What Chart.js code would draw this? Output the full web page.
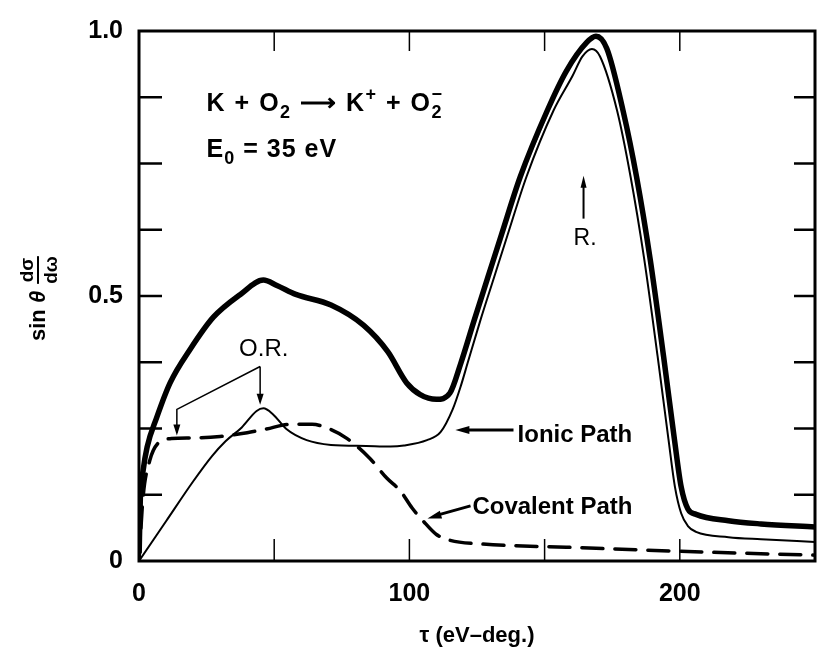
<!DOCTYPE html>
<html>
<head>
<meta charset="utf-8">
<script src="https://cdn.jsdelivr.net/npm/chart.js@4.4.1/dist/chart.umd.min.js"></script>
<style>
  html, body { margin: 0; padding: 0; background: #fff; }
  #wrap { width: 818px; height: 649px; position: relative; }
</style>
</head>
<body>
<div id="wrap"><canvas id="curve_chart"></canvas></div>
<script>
// values (tau in eV-deg, y = sin(theta) dsigma/domega)
const tauTotal = [0, 0.5, 1.5, 3, 6.5, 11.5, 19, 27.5, 37.5, 46, 51, 58, 71, 83, 92, 99, 104, 110, 115, 119, 124, 129, 134, 141, 151, 158, 165.5, 169, 173, 179, 184, 189, 194, 198, 200.5, 203, 206, 218, 230, 250];
const totalSignal = [0, 0.12, 0.17, 0.215, 0.27, 0.336, 0.40, 0.46, 0.503, 0.53, 0.52, 0.503, 0.483, 0.445, 0.395, 0.336, 0.314, 0.305, 0.317, 0.373, 0.455, 0.535, 0.615, 0.725, 0.85, 0.924, 0.978, 0.99, 0.967, 0.85, 0.725, 0.571, 0.386, 0.23, 0.14, 0.098, 0.088, 0.076, 0.070, 0.064];

const tauIonic = [0, 10, 20, 27, 32, 38, 43.5, 46, 49.5, 54.5, 62, 71, 84, 93, 98, 106.5, 111.5, 116, 119, 121.5, 126.3, 131.3, 136.3, 143.3, 153.3, 160.3, 164, 167.5, 170.5, 176.8, 181.8, 186.8, 191.8, 195.8, 198.2, 200.5, 203, 206, 218, 230, 250];
const ionicPath = [0, 0.075, 0.15, 0.198, 0.226, 0.252, 0.283, 0.288, 0.277, 0.249, 0.228, 0.219, 0.217, 0.216, 0.218, 0.228, 0.243, 0.286, 0.33, 0.373, 0.455, 0.535, 0.615, 0.725, 0.85, 0.915, 0.952, 0.966, 0.952, 0.85, 0.725, 0.571, 0.386, 0.23, 0.14, 0.09, 0.066, 0.055, 0.045, 0.041, 0.036];

const tauCovalent = [0, 1.5, 4, 7, 12, 20, 30, 40, 47, 56, 64, 70, 77, 85.5, 91.7, 96.7, 101, 105, 110, 115, 127, 158, 208, 250];
const covalentPath = [0, 0.12, 0.19, 0.222, 0.231, 0.232, 0.235, 0.242, 0.249, 0.258, 0.258, 0.25, 0.231, 0.193, 0.156, 0.132, 0.10, 0.076, 0.05, 0.039, 0.032, 0.026, 0.017, 0.011];

const xTickValues = [0, 100, 200];
const yTickValues = [0, 0.5, 1];
const yTickText = ['0', '0.5', '1.0'];
const minorX = [50, 100, 150, 200];
const minorY = [0.125, 0.25, 0.375, 0.5, 0.625, 0.75, 0.875];

const FONT = "'Liberation Sans', Arial, sans-serif";

function pts(xs, ys) {
    return xs.map(function (x, i) { return { x: x, y: ys[i] }; });
}

function seg(ctx, x1, y1, x2, y2) {
    ctx.beginPath();
    ctx.moveTo(x1, y1);
    ctx.lineTo(x2, y2);
    ctx.stroke();
}

function arrowHead(ctx, fx, fy, tx, ty, len, half) {
    const a = Math.atan2(ty - fy, tx - fx);
    ctx.beginPath();
    ctx.moveTo(tx, ty);
    ctx.lineTo(tx - len * Math.cos(a) + half * Math.sin(a), ty - len * Math.sin(a) - half * Math.cos(a));
    ctx.lineTo(tx - len * Math.cos(a) - half * Math.sin(a), ty - len * Math.sin(a) + half * Math.cos(a));
    ctx.closePath();
    ctx.fill();
}

// text with sub/superscripts
function runs(ctx, x, yb, parts, size, weight) {
    parts.forEach(function (p) {
        const s = p.s || size;
        ctx.font = weight + ' ' + s + 'px ' + FONT;
        ctx.fillText(p.t, x, yb + (p.dy || 0));
        if (p.stack) {
            ctx.fillText(p.stack, x, yb + p.sdy);
        }
        x += ctx.measureText(p.t).width;
    });
}

const figurePlugin = {
    id: 'figure',
    afterDatasetsDraw(chart) {
        const ctx = chart.ctx;
        const a = chart.chartArea;
        const x = chart.scales.x;
        const y = chart.scales.y;
        const X = function (v) { return x.getPixelForValue(v); };
        const Y = function (v) { return y.getPixelForValue(v); };
        ctx.save();
        ctx.strokeStyle = '#000';
        ctx.fillStyle = '#000';
        ctx.lineCap = 'butt';

        // frame
        ctx.lineWidth = 3;
        ctx.strokeRect(a.left, a.top, a.right - a.left, a.bottom - a.top);

        // inward ticks
        ctx.lineWidth = 1.5;
        minorX.forEach(function (v) {
            seg(ctx, X(v), a.bottom, X(v), a.bottom - 22);
            seg(ctx, X(v), a.top, X(v), a.top + 20);
        });
        ctx.lineWidth = 2.5;
        minorY.forEach(function (v) {
            seg(ctx, a.left, Y(v), a.left + 23, Y(v));
            seg(ctx, a.right, Y(v), a.right - 21, Y(v));
        });

        // reaction and energy
        ctx.textAlign = 'left';
        ctx.textBaseline = 'alphabetic';
        ctx.letterSpacing = '1.5px';
        runs(ctx, X(25), Y(0.85), [
            { t: 'K + O' }, { t: '2', s: 18, dy: 7 }, { t: ' \u27f6 K' }, { t: '+', s: 18, dy: -11 },
            { t: ' + O' }, { t: '2', s: 18, dy: 7, stack: '\u2212', sdy: -11 }
        ], 25, 'bold');
        ctx.letterSpacing = '1px';
        runs(ctx, X(25), Y(0.762), [
            { t: 'E' }, { t: '0', s: 18, dy: 7 }, { t: ' = 35 eV' }
        ], 25, 'bold');
        ctx.letterSpacing = '0px';

        // O.R.
        ctx.font = '24px ' + FONT;
        ctx.fillText('O.R.', X(37), Y(0.386));
        ctx.lineWidth = 1.5;
        ctx.beginPath();
        ctx.moveTo(X(44.8), Y(0.367));
        ctx.lineTo(X(44.8), Y(0.30));
        ctx.moveTo(X(44.8), Y(0.367));
        ctx.lineTo(X(14), Y(0.286));
        ctx.lineTo(X(14), Y(0.242));
        ctx.stroke();
        arrowHead(ctx, X(44.8), Y(0.367), X(44.8), Y(0.295), 11, 3.5);
        arrowHead(ctx, X(14), Y(0.286), X(14), Y(0.237), 11, 3.5);

        // R.
        ctx.font = '23px ' + FONT;
        ctx.fillText('R.', X(160.7), Y(0.596));
        ctx.lineWidth = 2;
        seg(ctx, X(164.4), Y(0.646), X(164.4), Y(0.715));
        arrowHead(ctx, X(164.4), Y(0.646), X(164.4), Y(0.727), 12, 3);

        // Ionic Path
        ctx.font = 'bold 24px ' + FONT;
        ctx.fillText('Ionic Path', X(140), Y(0.2245));
        ctx.lineWidth = 3;
        seg(ctx, X(138.5), Y(0.247), X(121), Y(0.247));
        arrowHead(ctx, X(138.5), Y(0.247), X(117), Y(0.247), 14, 4);

        // Covalent Path
        ctx.fillText('Covalent Path', X(123.3), Y(0.089));
        seg(ctx, X(122.6), Y(0.104), X(110), Y(0.086));
        arrowHead(ctx, X(122.6), Y(0.104), X(106.7), Y(0.08), 14, 4);

        ctx.restore();
    },
    afterDraw(chart) {
        // y axis title: sin(theta) dsigma/domega, rotated
        const ctx = chart.ctx;
        ctx.save();
        ctx.fillStyle = '#000';
        ctx.translate(45, 341);
        ctx.rotate(-Math.PI / 2);
        ctx.textBaseline = 'alphabetic';
        ctx.textAlign = 'left';
        ctx.font = 'bold 22px ' + FONT;
        ctx.fillText('sin ', 0, 0);
        let w = ctx.measureText('sin ').width;
        ctx.font = 'italic bold 22px ' + FONT;
        ctx.fillText('\u03b8', w, 0);
        w += ctx.measureText('\u03b8').width + 7;
        ctx.font = 'bold 19px ' + FONT;
        const fw = Math.max(ctx.measureText('d\u03c3').width, ctx.measureText('d\u03c9').width);
        ctx.textAlign = 'center';
        ctx.fillText('d\u03c3', w + fw / 2, -12);
        ctx.fillText('d\u03c9', w + fw / 2, 12);
        ctx.fillRect(w, -8, fw, 2);
        ctx.restore();
    }
};

const ctx = document.getElementById('curve_chart').getContext('2d');
const myChart = new Chart(ctx, {
    type: 'line',
    data: {
        datasets: [{
            label: 'Total',
            data: pts(tauTotal, totalSignal),
            borderColor: '#000',
            borderWidth: 5.5,
            order: 4
        }, {
            label: 'Ionic halo',
            data: pts(tauIonic, ionicPath),
            borderColor: '#fff',
            borderWidth: 4.5,
            order: 3
        }, {
            label: 'Ionic Path',
            data: pts(tauIonic, ionicPath),
            borderColor: '#000',
            borderWidth: 2,
            order: 2
        }, {
            label: 'Covalent Path',
            data: pts(tauCovalent, covalentPath),
            borderColor: '#000',
            borderWidth: 3.5,
            borderDash: [21, 12],
            borderCapStyle: 'round',
            order: 1
        }]
    },
    options: {
        responsive: true,
        maintainAspectRatio: false,
        animation: false,
        events: [],
        layout: { padding: { top: 23, right: 3, left: 0, bottom: 0 } },
        elements: {
            point: { radius: 0 },
            line: { cubicInterpolationMode: 'monotone', fill: false }
        },
        plugins: { legend: { display: false }, tooltip: { enabled: false } },
        scales: {
            x: {
                type: 'linear',
                min: 0,
                max: 250,
                afterFit: function (s) { s.height = 88; },
                afterBuildTicks: function (s) { s.ticks = xTickValues.map(function (v) { return { value: v }; }); },
                ticks: { font: { family: FONT, size: 25, weight: 'bold' }, color: '#000', padding: 18, maxRotation: 0 },
                grid: { display: false, drawTicks: false },
                border: { display: false },
                title: {
                    display: true,
                    text: '\u03c4 (eV\u2013deg.)',
                    font: { family: FONT, size: 22, weight: 'bold' },
                    color: '#000',
                    padding: { top: 0, bottom: 0 }
                }
            },
            y: {
                min: 0,
                max: 1,
                afterFit: function (s) { s.width = 139; },
                afterBuildTicks: function (s) { s.ticks = yTickValues.map(function (v) { return { value: v }; }); },
                ticks: {
                    font: { family: FONT, size: 25, weight: 'bold' },
                    color: '#000',
                    padding: 16,
                    callback: function (v) { return yTickText[yTickValues.indexOf(v)]; }
                },
                grid: { display: false, drawTicks: false },
                border: { display: false }
            }
        }
    },
    plugins: [figurePlugin]
});
</script>
</body>
</html>
